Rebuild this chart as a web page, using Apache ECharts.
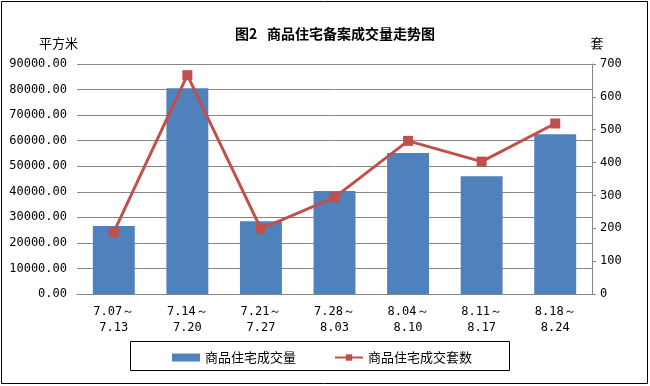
<!DOCTYPE html>
<html><head><meta charset="utf-8">
<script src="https://cdn.jsdelivr.net/npm/echarts@6/dist/echarts.min.js"></script>
<style>html,body{margin:0;padding:0;background:#fff}#c{width:650px;height:386px}</style>
</head><body><div id="c"></div>
<script>
var categories = ['7.07～\n7.13','7.14～\n7.20','7.21～\n7.27','7.28～\n8.03','8.04～\n8.10','8.11～\n8.17','8.18～\n8.24'];
var areaValues = [26600, 80500, 28500, 40300, 55200, 46100, 62500];
var unitValues = [188, 666, 198, 294, 466, 403, 519];
var leftTicks = [0, 10000, 20000, 30000, 40000, 50000, 60000, 70000, 80000, 90000];
var rightTicks = [0, 100, 200, 300, 400, 500, 600, 700];

var chart = echarts.init(document.getElementById('c'), null, {renderer:'canvas'});
var font = '"Noto Sans CJK SC", sans-serif';
chart.setOption({
  animation:false,
  title:{text:'图2   商品住宅备案成交量走势图', left:330, textAlign:'center', top:22,
    textStyle:{fontSize:14, fontWeight:'bold', color:'#000', fontFamily:font}},
  grid:{left:77, right:58, top:64, bottom:92},
  legend:{left:167, top:346, itemGap:38, itemWidth:28, itemHeight:8,
    textStyle:{fontSize:13, color:'#000', fontFamily:font},
    data:[{name:'商品住宅成交量', icon:'rect'}, {name:'商品住宅成交套数'}]},
  xAxis:{type:'category', data:categories,
    axisLine:{lineStyle:{color:'#868686'}}, axisTick:{show:false},
    axisLabel:{color:'#000', fontSize:12, fontFamily:'"DejaVu Sans Mono", monospace', lineHeight:16, margin:10}},
  yAxis:[
    {type:'value', min:leftTicks[0], max:leftTicks[leftTicks.length-1], interval:10000,
     name:'平方米', nameLocation:'end', nameGap:14,
     nameTextStyle:{color:'#000', fontSize:13, fontFamily:font, align:'center', padding:[0,0,0,-37]},
     axisLine:{show:false}, axisTick:{show:false},
     axisLabel:{color:'#000', fontSize:12, fontFamily:'"DejaVu Sans Mono", monospace', margin:10,
       formatter:function(v){return v.toFixed(2);}},
     splitLine:{lineStyle:{color:'#868686'}}},
    {type:'value', min:rightTicks[0], max:rightTicks[rightTicks.length-1], interval:100,
     name:'套', nameLocation:'end', nameGap:14,
     nameTextStyle:{color:'#000', fontSize:13, fontFamily:font, align:'center', padding:[0,0,0,10]},
     axisLine:{show:true, lineStyle:{color:'#868686'}}, axisTick:{show:true, length:4, lineStyle:{color:'#868686'}},
     axisLabel:{color:'#000', fontSize:12, fontFamily:'"DejaVu Sans Mono", monospace', margin:8},
     splitLine:{show:false}}
  ],
  series:[
    {name:'商品住宅成交量', type:'bar', data:areaValues, barWidth:'57%', yAxisIndex:0,
     itemStyle:{color:'#4F81BD'}},
    {name:'商品住宅成交套数', type:'line', data:unitValues, yAxisIndex:1,
     symbol:'rect', symbolSize:10, lineStyle:{color:'#C0504D', width:3},
     itemStyle:{color:'#C0504D'}}
  ],
  graphic:[
    {type:'rect', shape:{x:1.5, y:1.5, width:646, height:382}, style:{fill:'none', stroke:'#000', lineWidth:1}},
    {type:'rect', shape:{x:130.5, y:341.5, width:379, height:29}, style:{fill:'none', stroke:'#000', lineWidth:1}}
  ]
});
</script></body></html>
